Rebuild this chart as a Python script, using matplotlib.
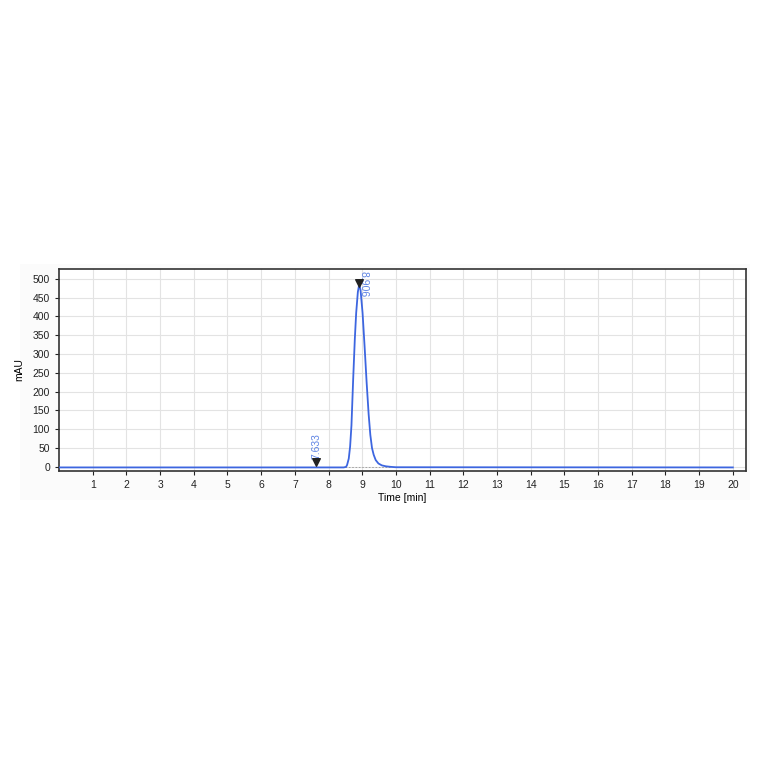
import matplotlib
matplotlib.use("Agg")
import matplotlib.pyplot as plt
import numpy as np

plt.rcParams['font.family'] = ['Liberation Sans', 'DejaVu Sans']

# Chromatogram trace (time in min, signal in mAU)
time_min = [0.0, 7.0, 8.45, 8.52, 8.55, 8.60, 8.64, 8.68, 8.73, 8.78, 8.82, 8.87,
            8.91, 8.95, 9.01, 9.07, 9.13, 9.19, 9.24, 9.29, 9.34, 9.40, 9.48, 9.58,
            9.70, 9.85, 10.0, 20.0]
signal_mau = [-1.5, -1.5, -1.5, 0.0, 5, 22, 54, 110, 231, 340, 409, 465,
              485, 470, 409, 320, 225, 140, 85, 50, 32, 18, 9, 4,
              1.5, 0.0, -1.0, -1.5]

# Peak markers
peak_times = [7.633, 8.906]
peak_marker_y = [12, 488]
peak_labels = ["7.633", "8.906"]

x_ticks = list(range(1, 21))
y_ticks = list(range(0, 501, 50))

fig = plt.figure(figsize=(7.64, 7.64), dpi=100)
bg = fig.add_axes([20/764, 1-500/764, 730/764, 236/764], zorder=-5)
bg.set_facecolor('#fbfbfb')
bg.set_xticks([]); bg.set_yticks([])
for s in bg.spines.values():
    s.set_visible(False)

ax = fig.add_axes([59/764, 1-471/764, 687/764, 202/764], zorder=1)
ax.set_facecolor('white')

ax.plot(time_min, signal_mau, color='#3d66e0', lw=1.3, zorder=3)
# baseline under the peak
ax.plot([8.5, 9.85], [-1.5, -1.5], color='#9a9a9a', lw=0.6, ls=(0, (2, 2)), zorder=2)

ax.set_xlim(0, 20.39)
ax.set_ylim(-11, 526)
ax.set_xticks(x_ticks)
ax.set_yticks(y_ticks)
ax.tick_params(labelsize=7.5, colors='#222222', length=3, width=0.8)
ax.grid(True, color='#e3e3e3', lw=0.8, ls='-')
ax.set_axisbelow(True)
for s in ax.spines.values():
    s.set_color('#333333')
    s.set_linewidth(1.2)

ax.set_xlabel('Time [min]', fontsize=7.5, labelpad=2)
ax.set_ylabel('mAU', fontsize=7.5, labelpad=6)

ax.scatter(peak_times, peak_marker_y, marker='v', s=30, color='#222222', zorder=5)
ax.text(peak_times[0], peak_marker_y[0] + 10, peak_labels[0], rotation=90,
        color='#5f84e4', fontsize=7.5, ha='center', va='bottom')
ax.text(peak_times[1] + 0.12, 522, peak_labels[1], rotation=270,
        color='#5f84e4', fontsize=7.5, ha='center', va='top')

fig.savefig('out.png', dpi=100, facecolor='white')
